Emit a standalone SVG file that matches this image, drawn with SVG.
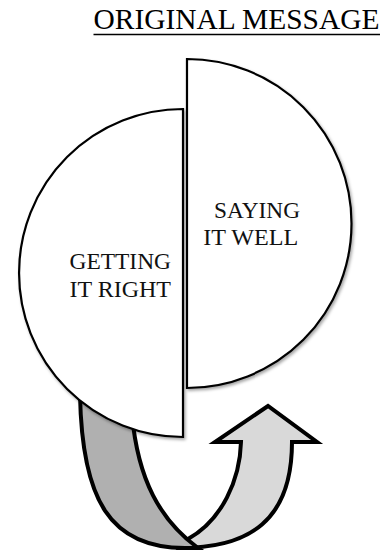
<svg xmlns="http://www.w3.org/2000/svg" width="382" height="550" viewBox="0 0 382 550">
<defs>
<filter id="sh" x="-10%" y="-10%" width="130%" height="130%">
<feDropShadow dx="1.5" dy="2" stdDeviation="1.5" flood-color="#000" flood-opacity="0.35"/>
</filter>
<style>
.half{fill:#fff;stroke:#000;stroke-width:2.2;filter:url(#sh)}
.lbl{font-family:"Liberation Serif","Times New Roman",serif;font-size:24px;fill:#111}
.arr{stroke:#000;stroke-width:4;stroke-linejoin:miter}
</style>
</defs>
<rect width="382" height="550" fill="#fff"/>
<g id="title">
<text x="93.5" y="29.3" font-family="Liberation Serif, Times New Roman, serif" font-size="29" textLength="286" lengthAdjust="spacingAndGlyphs" fill="#000">ORIGINAL MESSAGE</text>
<line x1="93.5" y1="34.5" x2="380" y2="34.5" stroke="#000" stroke-width="1.6"/>
</g>
<g id="connectors">
<path class="arr" fill="#d9d9d9" d="M 180 548 C 250 548, 292 520, 292 442 L 317 442 L 268 406 L 215 442 L 241 442 C 240 480, 222 520, 188 539 Z"/>
<path class="arr" fill="#b0b0b0" d="M 80 395 C 82 500, 110 548, 185 548 L 198 548 C 160 520, 138 480, 132 415 Z"/>
</g>
<g id="getting-it-right">
<path class="half" d="M 183 109 A 164 164 0 0 0 183 437 Z"/>
<text class="lbl" x="69.5" y="269.3" textLength="101.5" lengthAdjust="spacingAndGlyphs">GETTING</text>
<text class="lbl" x="69.5" y="296.7" textLength="101.5" lengthAdjust="spacingAndGlyphs">IT RIGHT</text>
</g>
<g id="saying-it-well">
<path class="half" d="M 187 59 A 164.5 164.5 0 0 1 187 388 Z"/>
<text class="lbl" x="214" y="218.3" textLength="86" lengthAdjust="spacingAndGlyphs">SAYING</text>
<text class="lbl" x="203.3" y="245" textLength="95" lengthAdjust="spacingAndGlyphs">IT WELL</text>
</g>
</svg>
